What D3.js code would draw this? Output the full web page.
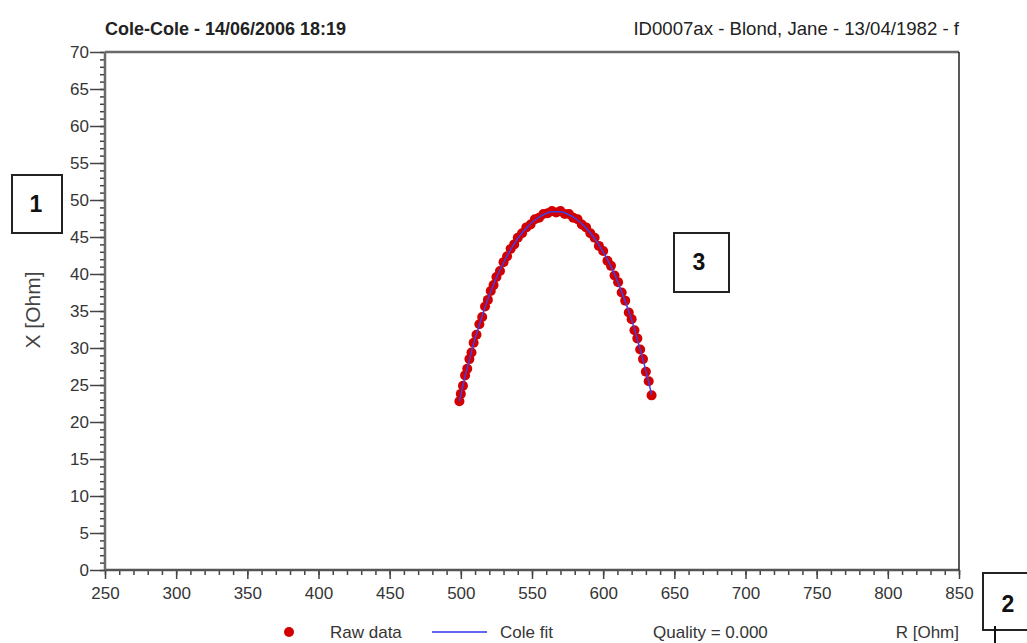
<!DOCTYPE html>
<html>
<head>
<meta charset="utf-8">
<script src="https://cdn.jsdelivr.net/npm/d3@7"></script>
<style>
  html, body { margin: 0; padding: 0; background: #fff; }
  svg { display: block; font-family: "Liberation Sans", Arial, sans-serif; }
</style>
</head>
<body>
<svg id="chart" width="1027" height="643"></svg>
<script>
// ---- data ----
const titleLeft = "Cole-Cole - 14/06/2006 18:19";
const titleRight = "ID0007ax - Blond, Jane - 13/04/1982 - f";
const xLabel = "R [Ohm]";
const yLabel = "X [Ohm]";
const xTicks = [250, 300, 350, 400, 450, 500, 550, 600, 650, 700, 750, 800, 850];
const yTicks = [0, 5, 10, 15, 20, 25, 30, 35, 40, 45, 50, 55, 60, 65, 70];
const legendLabels = ["Raw data", "Cole fit", "Quality = 0.000"];

const rawR = [499,500,501.5,503,504.5,506,507.5,509,511,513,515,517,519,521,523,525,527.5,530,532.5,535,537.5,540,543,546,549,552,555,558,561,564,567,570,573,576,579,582,585,588,591,594,597,600,603,605.5,608,610.5,613,615.5,618,620,622,624,626,628,630,632,634];
const rawX = [22.8,23.8,24.9,26.3,27.2,28.5,29.4,30.7,31.8,33.2,34.2,35.6,36.5,37.7,38.5,39.6,40.4,41.6,42.4,43.4,44.0,44.9,45.5,46.3,46.7,47.4,47.6,48.1,48.2,48.5,48.3,48.5,48.1,48.1,47.6,47.4,46.7,46.3,45.5,44.9,43.8,43.1,41.8,41.1,39.8,38.9,37.5,36.4,34.8,33.9,32.4,31.3,29.8,28.5,26.8,25.5,23.6];

const fitR = [499,501,503,506,509,513,517,521,525,530,535,540,546,552,558,564,567,570,576,582,588,594,600,605.5,610.5,615.5,620,624,628,632,634];
const fitX = [22.8,24.5,26.2,28.4,30.6,33.1,35.5,37.6,39.5,41.5,43.3,44.8,46.2,47.3,48.0,48.4,48.4,48.4,48.0,47.3,46.2,44.8,43.0,41.0,38.8,36.3,33.8,31.2,28.4,25.4,23.7];

// ---- drawing ----
const svg = d3.select("#chart");
const x = d3.scaleLinear().domain([250, 850]).range([105, 959]);
const y = d3.scaleLinear().domain([0, 70]).range([570, 52]);
const textCol = "#353535";

// titles
svg.append("text").attr("x", 105).attr("y", 35).attr("font-size", 18).attr("font-weight", "bold")
  .attr("fill", "#222").text(titleLeft);
svg.append("text").attr("x", 959).attr("y", 35).attr("font-size", 18.6).attr("text-anchor", "end")
  .attr("fill", "#222").text(titleRight);

// minor ticks
svg.append("g").attr("transform", "translate(0,570)")
  .call(d3.axisBottom(x).tickValues(d3.range(250, 851, 10)).tickSize(5).tickFormat(""))
  .call(g => g.select(".domain").remove())
  .call(g => g.selectAll("line").attr("stroke", "#444").attr("stroke-width", 1.5));
svg.append("g").attr("transform", "translate(105,0)")
  .call(d3.axisLeft(y).tickValues(d3.range(0, 71, 1)).tickSize(5).tickFormat(""))
  .call(g => g.select(".domain").remove())
  .call(g => g.selectAll("line").attr("stroke", "#444").attr("stroke-width", 1.5));

// major axes
svg.append("g").attr("transform", "translate(0,570)")
  .call(d3.axisBottom(x).tickValues(xTicks).tickSize(9).tickPadding(8).tickFormat(d3.format("d")))
  .call(g => g.select(".domain").remove())
  .call(g => g.selectAll("line").attr("stroke", "#444").attr("stroke-width", 1.5))
  .call(g => g.selectAll("text").attr("font-size", 17).attr("fill", textCol)
    .attr("font-family", "'Liberation Sans', Arial, sans-serif"));
svg.append("g").attr("transform", "translate(105,0)")
  .call(d3.axisLeft(y).tickValues(yTicks).tickSize(15).tickPadding(1).tickFormat(d3.format("d")))
  .call(g => g.select(".domain").remove())
  .call(g => g.selectAll("line").attr("stroke", "#444").attr("stroke-width", 1.5))
  .call(g => g.selectAll("text").attr("font-size", 17).attr("fill", textCol)
    .attr("font-family", "'Liberation Sans', Arial, sans-serif"));

// frame
svg.append("line").attr("x1", x(250)).attr("x2", x(850)).attr("y1", y(70)).attr("y2", y(70))
  .attr("stroke", "#6a6a6a").attr("stroke-width", 2.5);
svg.append("line").attr("x1", x(250)).attr("x2", x(850)).attr("y1", y(0)).attr("y2", y(0))
  .attr("stroke", "#555").attr("stroke-width", 2.5);
svg.append("line").attr("x1", x(250)).attr("x2", x(250)).attr("y1", y(70)).attr("y2", y(0))
  .attr("stroke", "#6a6a6a").attr("stroke-width", 2.5);
svg.append("line").attr("x1", x(850)).attr("x2", x(850)).attr("y1", y(70)).attr("y2", y(0))
  .attr("stroke", "#222").attr("stroke-width", 1.5);

// y label
svg.append("text").attr("transform", "translate(40,310) rotate(-90)").attr("text-anchor", "middle")
  .attr("font-size", 21).attr("fill", "#444").text(yLabel);

// raw data points
svg.append("g").selectAll("circle").data(rawR.map((r, i) => [r, rawX[i]])).join("circle")
  .attr("cx", d => x(d[0])).attr("cy", d => y(d[1])).attr("r", 5)
  .attr("fill", "#d20000");

// fit line
const fitData = fitR.map((r, i) => [r, fitX[i]]);
svg.append("path").datum(fitData)
  .attr("d", d3.line().x(d => x(d[0])).y(d => y(d[1])).curve(d3.curveMonotoneX))
  .attr("fill", "none").attr("stroke", "#4040e8").attr("stroke-width", 1.5);

// legend
svg.append("circle").attr("cx", 289).attr("cy", 632).attr("r", 5).attr("fill", "#d20000");
svg.append("text").attr("x", 330).attr("y", 638).attr("font-size", 17).attr("fill", textCol).text(legendLabels[0]);
svg.append("line").attr("x1", 432).attr("x2", 487).attr("y1", 632).attr("y2", 632)
  .attr("stroke", "#6565f0").attr("stroke-width", 2);
svg.append("text").attr("x", 500).attr("y", 638).attr("font-size", 17).attr("fill", textCol).text(legendLabels[1]);
svg.append("text").attr("x", 653).attr("y", 638).attr("font-size", 17).attr("fill", textCol).text(legendLabels[2]);
svg.append("text").attr("x", 959).attr("y", 638).attr("font-size", 17).attr("text-anchor", "end")
  .attr("fill", textCol).text(xLabel);

// annotation boxes
function box(bx, by, w, h, label, tx, ty) {
  svg.append("rect").attr("x", bx).attr("y", by).attr("width", w).attr("height", h)
    .attr("fill", "#fff").attr("stroke", "#222").attr("stroke-width", 2);
  svg.append("text").attr("x", tx).attr("y", ty).attr("text-anchor", "middle")
    .attr("font-size", 23).attr("font-weight", "bold").attr("fill", "#111").text(label);
}
box(12, 175, 50, 58, "1", 36, 212);
box(674, 233, 55, 59, "3", 699, 270);
box(983, 573, 60, 57, "2", 1008, 612);
svg.append("line").attr("x1", 995).attr("x2", 995).attr("y1", 626).attr("y2", 643)
  .attr("stroke", "#111").attr("stroke-width", 2);
</script>
</body>
</html>
